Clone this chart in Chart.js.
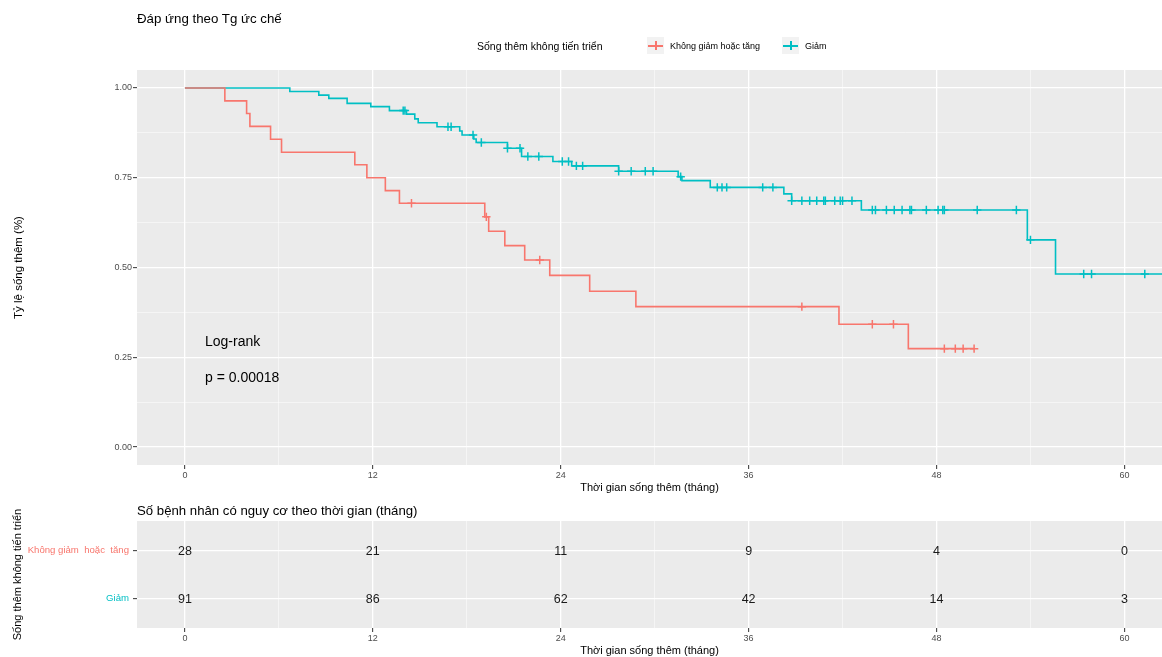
<!DOCTYPE html>
<html lang="vi">
<head>
<meta charset="utf-8">
<title>Đáp ứng theo Tg ức chế</title>
<script src="https://cdn.jsdelivr.net/npm/chart.js@4.4.1/dist/chart.umd.min.js"></script>
<style>
  html, body { margin: 0; padding: 0; background: #ffffff; }
  body { font-family: "Liberation Sans", Arial, sans-serif; }
  #page { position: relative; width: 1162px; height: 657px; overflow: hidden; }
  canvas { position: absolute; left: 0; }
  .txt { position: absolute; white-space: pre; line-height: 16px; color: #000; }
  .key { position: absolute; width: 17px; height: 17px; background: #F2F2F2; }
  .key .h { position: absolute; left: 1px; top: 7.5px; width: 15px; height: 2px; }
  .key .v { position: absolute; left: 7.5px; top: 4px; width: 2px; height: 9px; }
</style>
</head>
<body>
<div id="page">
  <canvas id="km" width="1162" height="500" style="top:0"></canvas>
  <canvas id="risk" width="1162" height="157" style="top:500px"></canvas>

  <div class="txt" style="left:137px; top:11px; font-size:13.3px;">Đáp ứng theo Tg ức chế</div>

  <div class="txt" style="left:477px; top:38px; font-size:10.5px;">Sống thêm không tiến triển</div>
  <div class="key" style="left:647px; top:37px;"><div class="h" style="background:#F8766D"></div><div class="v" style="background:#F8766D"></div></div>
  <div class="txt" style="left:670px; top:38px; font-size:9px;">Không giảm hoặc tăng</div>
  <div class="key" style="left:782px; top:37px;"><div class="h" style="background:#00BFC4"></div><div class="v" style="background:#00BFC4"></div></div>
  <div class="txt" style="left:805px; top:38px; font-size:9px;">Giảm</div>

  <div class="txt" style="left:205px; top:333px; font-size:14px;">Log-rank</div>
  <div class="txt" style="left:205px; top:369px; font-size:14px;">p = 0.00018</div>

  <div class="txt" style="left:137px; top:503px; font-size:13.2px;">Số bệnh nhân có nguy cơ theo thời gian (tháng)</div>
</div>

<script>
// Survival steps (time in months, survival proportion after the step)
const groupNames = ['Không giảm  hoặc  tăng', 'Giảm'];
const groupColors = ['#F8766D', '#00BFC4'];

const redStepTimes = [0, 2.55, 3.94, 4.15, 5.47, 6.17, 10.85, 11.62, 12.8, 13.7, 19.15, 19.4, 20.43, 21.7, 23.3, 25.85, 28.8, 41.77, 46.2, 50.4];
const redStepSurv  = [1, 0.964, 0.929, 0.893, 0.857, 0.821, 0.786, 0.750, 0.714, 0.679, 0.641, 0.601, 0.561, 0.521, 0.478, 0.434, 0.391, 0.342, 0.274, 0.274];
const redCensorTimes = [14.47, 19.25, 22.66, 39.4, 43.9, 45.25, 48.5, 49.2, 49.7, 50.4];

const cyanStepTimes = [0, 6.7, 8.55, 9.19, 10.36, 11.87, 13.06, 14.15, 14.68, 14.9, 16.1, 17.55, 17.7, 18.45, 18.6, 20.6, 21.5, 23.5, 24.7, 27.7, 31.5, 31.74, 33.55, 38.25, 38.75, 43.2, 53.8, 55.6, 63];
const cyanStepSurv  = [1, 0.990, 0.980, 0.971, 0.957, 0.948, 0.937, 0.927, 0.914, 0.903, 0.892, 0.880, 0.869, 0.858, 0.848, 0.832, 0.809, 0.795, 0.783, 0.768, 0.753, 0.742, 0.723, 0.705, 0.686, 0.660, 0.577, 0.482, 0.482];
const cyanCensorTimes = [13.94, 14.05, 16.8, 17.0, 18.4, 18.93, 20.6, 21.4, 21.9, 22.6, 24.1, 24.5, 25.0, 25.4, 27.7, 28.5, 29.4, 29.9, 31.66, 34.0, 34.3, 34.6, 36.9, 37.55, 38.75, 39.4, 39.9, 40.35, 40.8, 40.9, 41.5, 41.85, 42.0, 42.6, 43.9, 44.1, 44.8, 45.3, 45.8, 46.3, 46.4, 47.35, 48.1, 48.4, 48.5, 50.6, 53.1, 54.0, 57.4, 57.9, 61.3];

// Number at risk table
const riskTimes = [0, 12, 24, 36, 48, 60];
const riskRed   = [28, 21, 11, 9, 4, 0];
const riskCyan  = [91, 86, 62, 42, 14, 3];

// Axis ticks
const xMajorTicks = [0, 12, 24, 36, 48, 60];
const xMinorTicks = [6, 18, 30, 42, 54];
const yMajorTicks = [0, 0.25, 0.5, 0.75, 1];
const yMinorTicks = [0.125, 0.375, 0.625, 0.875];
const yTickLabels = ['0.00', '0.25', '0.50', '0.75', '1.00'];

const X_MIN = -3.06, X_MAX = 62.4;

Chart.defaults.font.family = '"Liberation Sans", Arial, sans-serif';
Chart.defaults.color = '#4D4D4D';

function stepPoints(times, surv) {
  return times.map((t, i) => ({ x: t, y: surv[i] }));
}
// survival level of a curve at time t (last step at or before t)
function levelAt(times, surv, t) {
  let s = surv[0];
  for (let i = 0; i < times.length; i++) { if (times[i] <= t) s = surv[i]; }
  return s;
}
function censorPoints(censors, times, surv) {
  return censors.map(t => ({ x: t, y: levelAt(times, surv, t) }));
}

const panelBg = {
  id: 'panelBg',
  beforeDraw(chart) {
    const { ctx, chartArea: a } = chart;
    ctx.save();
    ctx.fillStyle = '#EBEBEB';
    ctx.fillRect(a.left, a.top, a.right - a.left, a.bottom - a.top);
    ctx.restore();
  }
};

function gridOpts(isMajor) {
  return {
    drawTicks: true,
    tickLength: 4,
    color: c => (c.tick && isMajor(c.tick.value)) ? '#FFFFFF' : 'rgba(255,255,255,0.85)',
    lineWidth: c => (c.tick && isMajor(c.tick.value)) ? 1.3 : 0.6,
    tickColor: c => (c.tick && isMajor(c.tick.value)) ? '#333333' : 'rgba(0,0,0,0)',
    tickWidth: 1
  };
}

const isXMajor = v => xMajorTicks.includes(v);
const isYMajor = v => yMajorTicks.includes(v);

new Chart(document.getElementById('km'), {
  type: 'line',
  data: {
    datasets: [
      { label: 'Không giảm hoặc tăng', data: stepPoints(redStepTimes, redStepSurv), stepped: 'before',
        borderColor: groupColors[0], borderWidth: 1.6, pointRadius: 0, fill: false },
      { label: 'Giảm', data: stepPoints(cyanStepTimes, cyanStepSurv), stepped: 'before',
        borderColor: groupColors[1], borderWidth: 1.6, pointRadius: 0, fill: false },
      { type: 'scatter', label: 'censor-red', data: censorPoints(redCensorTimes, redStepTimes, redStepSurv),
        pointStyle: 'cross', pointRadius: 4.2, borderColor: groupColors[0], borderWidth: 1.5, showLine: false },
      { type: 'scatter', label: 'censor-cyan', data: censorPoints(cyanCensorTimes, cyanStepTimes, cyanStepSurv),
        pointStyle: 'cross', pointRadius: 4.2, borderColor: groupColors[1], borderWidth: 1.5, showLine: false }
    ]
  },
  options: {
    responsive: false,
    devicePixelRatio: 1,
    animation: false,
    layout: { autoPadding: false, padding: { top: 70, right: 0, left: 0, bottom: 0 } },
    plugins: { legend: { display: false }, tooltip: { enabled: false }, title: { display: false } },
    scales: {
      x: {
        type: 'linear', min: X_MIN, max: X_MAX,
        afterBuildTicks: s => { s.ticks = [...xMajorTicks, ...xMinorTicks].sort((a, b) => a - b).map(v => ({ value: v })); },
        afterFit: s => { s.height = 35; },
        border: { display: false },
        grid: gridOpts(isXMajor),
        ticks: { autoSkip: false, maxRotation: 0, padding: 1, color: '#4D4D4D', font: { size: 9 },
                 callback: v => isXMajor(v) ? String(v) : '' },
        title: { display: true, text: 'Thời gian sống thêm (tháng)', color: '#000', font: { size: 11 }, padding: { top: 0, bottom: 5 } }
      },
      y: {
        type: 'linear', min: -0.05, max: 1.05,
        afterBuildTicks: s => { s.ticks = [...yMajorTicks, ...yMinorTicks].sort((a, b) => a - b).map(v => ({ value: v })); },
        afterFit: s => { s.width = 137; },
        border: { display: false },
        grid: gridOpts(isYMajor),
        ticks: { autoSkip: false, padding: 1, color: '#4D4D4D', font: { size: 9 },
                 callback: v => { const i = yMajorTicks.indexOf(v); return i >= 0 ? yTickLabels[i] : ''; } },
        title: { display: true, text: 'Tỷ lệ sống thêm (%)', color: '#000', font: { size: 11.5 }, padding: { top: 12, bottom: 0 } }
      }
    }
  },
  plugins: [panelBg]
});

// Numbers at risk written at each (time, group) position
const riskText = {
  id: 'riskText',
  afterDatasetsDraw(chart) {
    const { ctx } = chart;
    ctx.save();
    ctx.font = '12.5px "Liberation Sans", Arial, sans-serif';
    ctx.fillStyle = '#1A1A1A';
    ctx.textAlign = 'center';
    ctx.textBaseline = 'middle';
    chart.data.datasets.forEach((ds, di) => {
      const meta = chart.getDatasetMeta(di);
      meta.data.forEach((pt, i) => { ctx.fillText(String(ds.data[i].n), pt.x, pt.y + 1); });
    });
    ctx.restore();
  }
};

const riskRows = [riskRed, riskCyan];
new Chart(document.getElementById('risk'), {
  type: 'scatter',
  data: {
    datasets: riskRows.map((vals, g) => ({
      label: groupNames[g],
      data: riskTimes.map((t, i) => ({ x: t, y: g + 1, n: vals[i] })),
      pointRadius: 0
    }))
  },
  options: {
    responsive: false,
    devicePixelRatio: 1,
    animation: false,
    layout: { autoPadding: false, padding: { top: 21, right: 0, left: 0, bottom: 0 } },
    plugins: { legend: { display: false }, tooltip: { enabled: false } },
    scales: {
      x: {
        type: 'linear', min: X_MIN, max: X_MAX,
        afterBuildTicks: s => { s.ticks = [...xMajorTicks, ...xMinorTicks].sort((a, b) => a - b).map(v => ({ value: v })); },
        afterFit: s => { s.height = 29; },
        border: { display: false },
        grid: gridOpts(isXMajor),
        ticks: { autoSkip: false, maxRotation: 0, padding: 1, color: '#4D4D4D', font: { size: 9 },
                 callback: v => isXMajor(v) ? String(v) : '' },
        title: { display: true, text: 'Thời gian sống thêm (tháng)', color: '#000', font: { size: 11 }, padding: { top: 0, bottom: -1 } }
      },
      y: {
        type: 'linear', min: 0.4, max: 2.6, reverse: true,
        afterBuildTicks: s => { s.ticks = [1, 2].map(v => ({ value: v })); },
        afterFit: s => { s.width = 137; },
        border: { display: false },
        grid: {
          drawTicks: true, tickLength: 4, color: '#FFFFFF', lineWidth: 1.3, tickColor: '#333333', tickWidth: 1
        },
        ticks: { autoSkip: false, padding: 4, font: { size: 9.6 },
                 color: c => groupColors[c.index] || '#4D4D4D',
                 callback: v => groupNames[v - 1] },
        title: { display: true, text: 'Sống thêm không tiến triển', color: '#000', font: { size: 11 }, padding: { top: 11, bottom: 0 } }
      }
    }
  },
  plugins: [panelBg, riskText]
});
</script>
</body>
</html>
